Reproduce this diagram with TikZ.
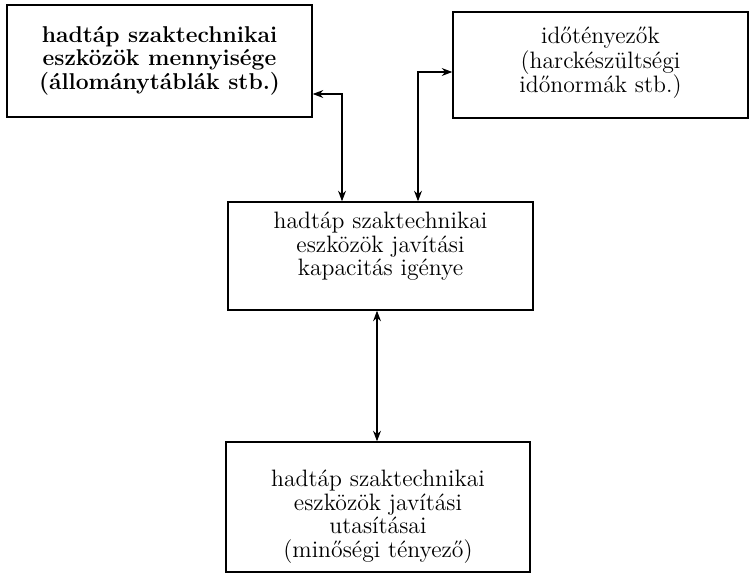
\documentclass[tikz,border=0pt]{standalone}
\usepackage{fontspec}
\setmainfont{Latin Modern Roman}
\usepackage{tikz}
\usetikzlibrary{calc, positioning, arrows.meta}

% lines of a box, lifted by #1 without changing the box size
\newcommand{\boxlines}[2]{\raisebox{#1}[\height][\depth]{\begin{tabular}{@{}c@{}}#2\end{tabular}}}

\begin{document}
\begin{tikzpicture}[
    block/.style={draw, line width=0.8pt, inner sep=0pt,
      font=\fontsize{13.5pt}{12.8pt}\selectfont},
    flow/.style={{Stealth[length=6pt,width=4.5pt]}-{Stealth[length=6pt,width=4.5pt]}, line width=0.6pt},
  ]
    \useasboundingbox (0,0) rectangle (15.04,-11.66);

    \node[block, minimum width=6.1cm, minimum height=2.24cm, font=\fontsize{13pt}{12.8pt}\selectfont\bfseries] (qty) at (3.19,-1.22)
      {\boxlines{0pt}{hadtáp szaktechnikai\\eszközök mennyisége\\(állománytáblák stb.)}};
    \node[block, minimum width=5.9cm, minimum height=2.12cm] (time) at (12.01,-1.30)
      {\boxlines{1pt}{időtényezők\\(harckészültségi\\időnormák stb.)}};
    \node[block, minimum width=6.1cm, minimum height=2.16cm] (need) at (7.61,-5.12)
      {\boxlines{5pt}{hadtáp szaktechnikai\\eszközök javítási\\kapacitás igénye}};
    \node[block, minimum width=6.08cm, minimum height=2.6cm] (instr) at (7.56,-10.14)
      {\boxlines{-6pt}{hadtáp szaktechnikai\\eszközök javítási\\utasításai\\(minőségi tényező)}};

    \coordinate (lj) at (6.84,-1.88);
    \coordinate (rj) at (8.36,-1.44);
    \coordinate (mj) at (7.54,-7.5);

    \draw[flow] (qty.east |- lj) -| (lj |- need.north);
    \draw[flow] (time.west |- rj) -| (rj |- need.north);
    \draw[flow] (mj |- need.south) -- (mj |- instr.north);
  \end{tikzpicture}
\end{document}
